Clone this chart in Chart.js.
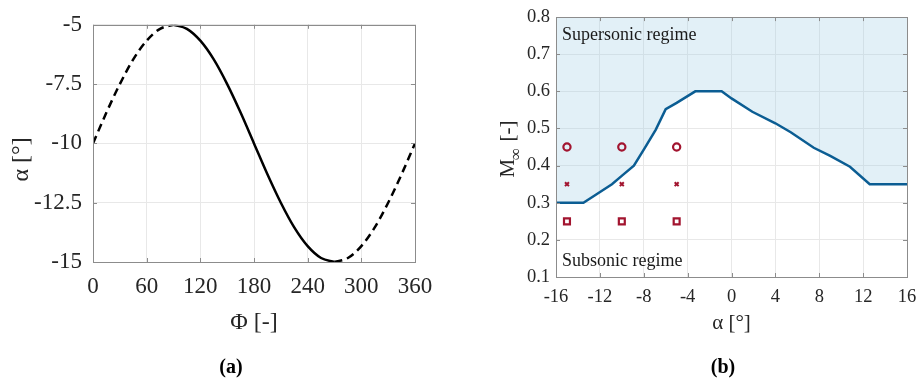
<!DOCTYPE html>
<html>
<head>
<meta charset="utf-8">
<script src="https://cdn.jsdelivr.net/npm/chart.js@4.4.0/dist/chart.umd.min.js"></script>
<style>
  html, body { margin: 0; padding: 0; background: #ffffff; }
  #wrap { position: relative; width: 917px; height: 378px; overflow: hidden; }
  canvas { position: absolute; top: 0; }
  #c1 { left: 0; }
  #c2 { left: 458px; }
  .cap { position: absolute; font-family: "Liberation Serif", "DejaVu Serif", serif; font-weight: bold; font-size: 20px; color: #000; transform: translate(-50%, -50%); white-space: nowrap; }
</style>
</head>
<body>
<div id="wrap">
  <canvas id="c1" width="458" height="378"></canvas>
  <canvas id="c2" width="459" height="378"></canvas>
  <div class="cap" style="left:231px; top:366px;">(a)</div>
  <div class="cap" style="left:723px; top:366px;">(b)</div>
</div>
<script>
// ---------- Panel (a) data ----------
const phiRise = [0, 15, 30, 45, 60, 75, 90];
const alphaRise = [-10, -8.7, -7.5, -6.46, -5.67, -5.17, -5];
const phiMain = [90, 105, 120, 135, 150, 165, 180, 195, 210, 225, 240, 255, 270];
const alphaMain = [-5, -5.17, -5.67, -6.46, -7.5, -8.7, -10, -11.3, -12.5, -13.54, -14.33, -14.83, -15];
const phiTail = [270, 285, 300, 315, 330, 345, 360];
const alphaTail = [-15, -14.83, -14.33, -13.54, -12.5, -11.3, -10];
const phiTicks = [0, 60, 120, 180, 240, 300, 360];
const alphaTicks = [-15, -12.5, -10, -7.5, -5];

// ---------- Panel (b) data ----------
const boundAlpha = [-16, -13.5, -12.3, -10.9, -9.9, -8.9, -7.9, -6.9, -6, -5, -3.3, -0.9, 0, 1.9, 4, 5.4, 7.5, 9, 10.8, 12.6, 16];
const boundMach  = [0.30, 0.30, 0.323, 0.35, 0.375, 0.40, 0.448, 0.497, 0.552, 0.569, 0.60, 0.60, 0.581, 0.545, 0.514, 0.49, 0.448, 0.426, 0.397, 0.35, 0.35];
const testAlpha = [-15, -10, -5];
const machCircle = [0.45, 0.45, 0.45];
const machCross  = [0.35, 0.35, 0.35];
const machSquare = [0.25, 0.25, 0.25];
const bAlphaTicks = [-16, -12, -8, -4, 0, 4, 8, 12, 16];
const bMachTicks = [0.1, 0.2, 0.3, 0.4, 0.5, 0.6, 0.7, 0.8];

const SERIF = '"Liberation Serif", "DejaVu Serif", serif';
const TXT = '#262626';
const GRID = '#e8e8e8';
const BOX = '#8c8c8c';

const zip = (xs, ys) => xs.map((x, i) => ({ x: x, y: ys[i] }));

// Box + inward ticks plugin
const boxPlugin = {
  id: 'box',
  afterDatasetsDraw(chart) {
    const { ctx, chartArea: a, scales } = chart;
    ctx.save();
    ctx.strokeStyle = BOX;
    ctx.lineWidth = 1;
    ctx.beginPath();
    const L = 4;
    scales.x.ticks.forEach(t => {
      const px = Math.round(scales.x.getPixelForValue(t.value)) + 0.5;
      ctx.moveTo(px, a.bottom); ctx.lineTo(px, a.bottom - L);
      ctx.moveTo(px, a.top); ctx.lineTo(px, a.top + L);
    });
    scales.y.ticks.forEach(t => {
      const py = Math.round(scales.y.getPixelForValue(t.value)) + 0.5;
      ctx.moveTo(a.left, py); ctx.lineTo(a.left + L, py);
      ctx.moveTo(a.right, py); ctx.lineTo(a.right - L, py);
    });
    ctx.stroke();
    ctx.strokeRect(Math.round(a.left) + 0.5, Math.round(a.top) + 0.5,
                   Math.round(a.right - a.left), Math.round(a.bottom - a.top));
    ctx.restore();
  }
};

function fixedTicks(arr) {
  return function (scale) { scale.ticks = arr.map(v => ({ value: v })); };
}

// y-axis title for panel (a), slightly below the axis centre as in the figure
const yTitleA = {
  id: 'yTitleA',
  afterDraw(chart) {
    const { ctx, chartArea: a } = chart;
    ctx.save();
    ctx.fillStyle = TXT;
    ctx.font = '24px ' + SERIF;
    ctx.textAlign = 'center';
    ctx.textBaseline = 'middle';
    ctx.translate(22, (a.top + a.bottom) / 2 + 16);
    ctx.rotate(-Math.PI / 2);
    ctx.fillText('α [°]', 0, 0);
    ctx.restore();
  }
};

// ---------- Chart (a) ----------
new Chart(document.getElementById('c1'), {
  type: 'scatter',
  data: {
    datasets: [
      { data: zip(phiRise, alphaRise), showLine: true, borderColor: '#000', borderWidth: 2.5, borderDash: [8, 5], pointRadius: 0, cubicInterpolationMode: 'monotone', fill: false },
      { data: zip(phiMain, alphaMain), showLine: true, borderColor: '#000', borderWidth: 2.5, pointRadius: 0, cubicInterpolationMode: 'monotone', fill: false },
      { data: zip(phiTail, alphaTail), showLine: true, borderColor: '#000', borderWidth: 2.5, borderDash: [8, 5], pointRadius: 0, cubicInterpolationMode: 'monotone', fill: false }
    ]
  },
  options: {
    responsive: false,
    animation: false,
    devicePixelRatio: 1,
    layout: { padding: { top: 14, right: 43, left: 0, bottom: 0 } },
    plugins: { legend: { display: false }, tooltip: { enabled: false } },
    scales: {
      x: {
        type: 'linear', min: 0, max: 360,
        afterBuildTicks: fixedTicks(phiTicks),
        afterFit: s => { s.height = 116; s.paddingLeft = 0; s.paddingRight = 0; },
        grid: { color: GRID, drawTicks: false },
        border: { display: false },
        ticks: { color: TXT, font: { family: SERIF, size: 23 }, padding: 11, autoSkip: false, maxRotation: 0, callback: v => String(v) },
        title: { display: true, text: 'Φ [-]', color: TXT, font: { family: SERIF, size: 24 }, padding: { top: 0, bottom: 41 } }
      },
      y: {
        type: 'linear', min: -15, max: -5,
        afterBuildTicks: fixedTicks(alphaTicks),
        afterFit: s => { s.width = 93; },
        grid: { color: GRID, drawTicks: false },
        border: { display: false },
        ticks: { color: TXT, font: { family: SERIF, size: 23 }, padding: 11, autoSkip: false, callback: v => String(v) },
        title: { display: false }
      }
    }
  },
  plugins: [boxPlugin, yTitleA]
});

// ---------- Chart (b) ----------
const labelPlugin = {
  id: 'labels',
  afterDraw(chart) {
    const { ctx, chartArea: a } = chart;
    ctx.save();
    ctx.fillStyle = '#1a1a1a';
    ctx.font = '18px ' + SERIF;
    ctx.textBaseline = 'middle';
    ctx.textAlign = 'left';
    ctx.fillText('Supersonic regime', a.left + 6, a.top + 18);
    ctx.fillText('Subsonic regime', a.left + 6, a.bottom - 16);
    // y-axis title with subscript
    ctx.fillStyle = TXT;
    const main = '21px ' + SERIF, sub = '17px ' + SERIF;
    ctx.font = main; const wM = ctx.measureText('M').width; const wR = ctx.measureText(' [-]').width;
    ctx.font = sub; const wI = ctx.measureText('∞').width;
    const total = wM + wI + wR;
    ctx.translate(56, (a.top + a.bottom) / 2 + 2);
    ctx.rotate(-Math.PI / 2);
    ctx.textBaseline = 'alphabetic';
    let x0 = -total / 2;
    ctx.font = main; ctx.fillText('M', x0, 0);
    ctx.font = sub; ctx.fillText('∞', x0 + wM - 1, 7);
    ctx.font = main; ctx.fillText(' [-]', x0 + wM + wI, 0);
    ctx.restore();
  }
};

new Chart(document.getElementById('c2'), {
  type: 'scatter',
  data: {
    datasets: [
      { data: zip(boundAlpha, boundMach), order: 5, showLine: true, borderColor: '#0b5d93', borderWidth: 2.5, pointRadius: 0, tension: 0, fill: 'end', backgroundColor: 'rgba(160, 205, 230, 0.30)' },
      { data: testAlpha.map((a, i) => ({ x: a, y: machCircle[i] })), order: 0, pointStyle: 'circle', pointRadius: 3.6, pointBorderWidth: 2.2, borderColor: '#a2142f', backgroundColor: 'rgba(255,255,255,0)' },
      { data: testAlpha.map((a, i) => ({ x: a, y: machCross[i] })), order: 0, pointStyle: 'crossRot', pointRadius: 2.8, pointBorderWidth: 2, borderColor: '#a2142f', backgroundColor: '#a2142f' },
      { data: testAlpha.map((a, i) => ({ x: a, y: machSquare[i] })), order: 0, pointStyle: 'rect', pointRadius: 4.2, pointBorderWidth: 2.2, borderColor: '#a2142f', backgroundColor: 'rgba(255,255,255,0)' }
    ]
  },
  options: {
    responsive: false,
    animation: false,
    devicePixelRatio: 1,
    layout: { padding: { top: 14, right: 10, left: 0, bottom: 0 } },
    plugins: { legend: { display: false }, tooltip: { enabled: false } },
    scales: {
      x: {
        type: 'linear', min: -16, max: 16,
        afterBuildTicks: fixedTicks(bAlphaTicks),
        afterFit: s => { s.height = 101; s.paddingLeft = 0; s.paddingRight = 0; },
        grid: { color: GRID, drawTicks: false },
        border: { display: false },
        ticks: { color: TXT, font: { family: SERIF, size: 18.5 }, padding: 9, autoSkip: false, maxRotation: 0, callback: v => String(v) },
        title: { display: true, text: 'α [°]', color: TXT, font: { family: SERIF, size: 21 }, padding: { top: 0, bottom: 42 } }
      },
      y: {
        type: 'linear', min: 0.1, max: 0.8,
        afterBuildTicks: fixedTicks(bMachTicks),
        afterFit: s => { s.width = 98; },
        grid: { color: GRID, drawTicks: false },
        border: { display: false },
        ticks: { color: TXT, font: { family: SERIF, size: 18.5 }, padding: 6, autoSkip: false, callback: v => Number(v).toFixed(1) },
        title: { display: false }
      }
    }
  },
  plugins: [boxPlugin, labelPlugin]
});
</script>
</body>
</html>
